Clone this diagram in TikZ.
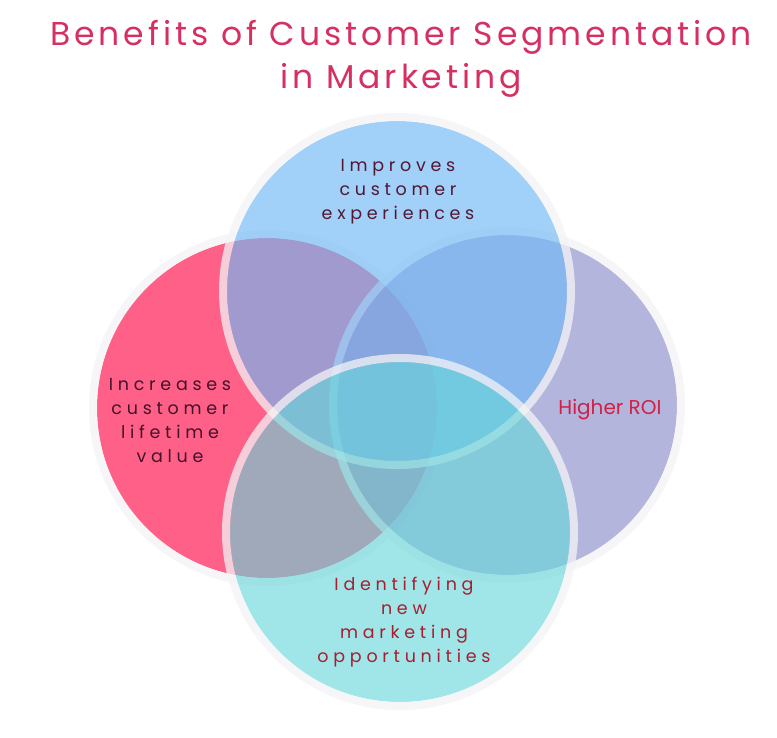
\documentclass[tikz,border=0pt]{standalone}
\usepackage{fontspec}
\setmainfont{Poppins}
\newfontfamily\spaced[LetterSpace=27]{Poppins}
\newfontfamily\titlefont[LetterSpace=12]{Poppins}
\usepackage{tikz}
\definecolor{pinkc}{RGB}{255,96,136}
\definecolor{purplec}{RGB}{141,144,203}
\definecolor{bluec}{RGB}{113,185,245}
\definecolor{cyanc}{RGB}{102,215,218}
\definecolor{ringc}{RGB}{244,244,246}
\definecolor{titlec}{RGB}{214,48,98}
\definecolor{darkc}{RGB}{82,24,52}
\definecolor{roic}{RGB}{208,32,72}
\definecolor{redc}{RGB}{168,30,46}

\begin{document}
\begin{tikzpicture}[x=1pt,y=-1pt,
  blob/.style={fill=#1,fill opacity=0.66},
  halo/.style={draw=ringc,line width=8pt,draw opacity=0.75},
  benefit/.style={align=center,font=\spaced\fontsize{17.5}{24}\selectfont}]
  \useasboundingbox (0,0) rectangle (777,737);
  \fill[white] (0,0) rectangle (777,737);

  % circles: left, right, top, bottom
  \coordinate (cl) at (267,408);
  \coordinate (cr) at (507,405);
  \coordinate (ct) at (397,291);
  \coordinate (cb) at (400,532);
  \fill[blob=pinkc,fill opacity=1] (cl) circle (170pt);
  \draw[halo] (cl) circle (174pt);
  \fill[blob=purplec] (cr) circle (170pt);
  \draw[halo] (cr) circle (174pt);
  \fill[blob=bluec] (ct) circle (170pt);
  \draw[halo] (ct) circle (174pt);
  \fill[blob=cyanc,fill opacity=0.62] (cb) circle (170pt);
  \draw[halo] (cb) circle (174pt);

  \node[titlec,align=center,font=\titlefont\fontsize{33}{43}\selectfont]
    (title) at (401,59) {Benefits of Customer Segmentation\\in Marketing};

  \node[benefit,darkc] (improve) at (398,192) {Improves\\customer\\experiences};
  \node[benefit,darkc!80!black] (clv) at (170,420) {Increases\\customer\\lifetime\\value};
  \node[roic,font=\fontsize{20}{24}\selectfont] (roi) at (610,410) {Higher ROI};
  \node[benefit,redc] (opps) at (404,622) {Identifying\\new\\marketing\\opportunities};
\end{tikzpicture}
\end{document}
